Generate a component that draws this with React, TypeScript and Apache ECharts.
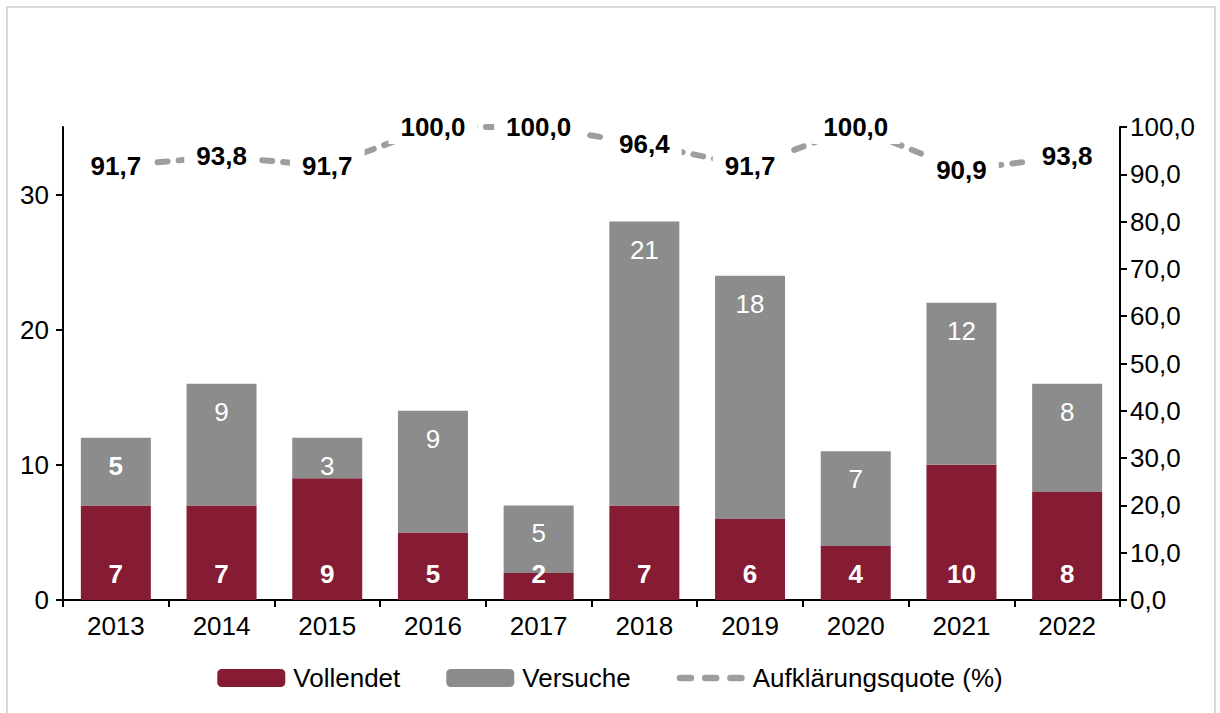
import React, { useEffect, useRef } from "react";
import * as echarts from "echarts";

const years = ["2013", "2014", "2015", "2016", "2017", "2018", "2019", "2020", "2021", "2022"];
const vollendet = [7, 7, 9, 5, 2, 7, 6, 4, 10, 8];
const versuche = [5, 9, 3, 9, 5, 21, 18, 7, 12, 8];
const quote = [91.7, 93.8, 91.7, 100.0, 100.0, 96.4, 91.7, 100.0, 90.9, 93.8];
const leftTicks = [0, 10, 20, 30];

const FONT = "'Liberation Sans', Arial, sans-serif";
const RED = "#861C33";
const GRAY = "#8C8C8C";
const LINE = "#9E9E9E";
const FS = 26;

const dashIcon =
  "path://M3,0h10a3,3 0 0 1 0,6h-10a3,3 0 0 1 0,-6z M26,0h10a3,3 0 0 1 0,6h-10a3,3 0 0 1 0,-6z M49,0h10a3,3 0 0 1 0,6h-10a3,3 0 0 1 0,-6z";

export default function App() {
  const ref = useRef<HTMLDivElement>(null);
  useEffect(() => {
    if (!ref.current) return;
    const chart = echarts.init(ref.current, undefined, { renderer: "svg" });
    const fmt = (v: number) => v.toFixed(1).replace(".", ",");
    chart.setOption({
      animation: false,
      textStyle: { fontFamily: FONT },
      graphic: [
        {
          type: "rect",
          shape: { x: 7, y: 7, width: 1208, height: 720 },
          style: { fill: "none", stroke: "#D9D9D9", lineWidth: 2 },
          silent: true,
        },
      ],
      grid: { left: 63, right: 100, top: 127, bottom: 113, containLabel: false },
      legend: {
        bottom: 17,
        left: "center",
        itemWidth: 68,
        itemHeight: 18,
        itemGap: 46,
        textStyle: { fontFamily: FONT, fontSize: FS, color: "#000", padding: [0, 0, 0, 3] },
        data: [
          { name: "Vollendet" },
          { name: "Versuche" },
          { name: "Aufklärungsquote (%)", icon: dashIcon, itemStyle: { color: LINE } },
        ],
      },
      xAxis: {
        type: "category",
        data: years,
        axisLine: { lineStyle: { color: "#000", width: 2 } },
        axisTick: { show: true, length: 7, lineStyle: { color: "#000", width: 2 } },
        axisLabel: { fontSize: FS, color: "#000", margin: 13, fontFamily: FONT },
      },
      yAxis: [
        {
          type: "value",
          min: 0,
          max: 35,
          interval: 10,
          splitLine: { show: false },
          axisLine: { show: true, lineStyle: { color: "#000", width: 2 } },
          axisTick: { show: true, length: 7, lineStyle: { color: "#000", width: 2 }, customValues: leftTicks },
          axisLabel: { fontSize: FS, color: "#000", margin: 14, fontFamily: FONT, customValues: leftTicks },
        },
        {
          type: "value",
          min: 0,
          max: 100,
          interval: 10,
          position: "right",
          splitLine: { show: false },
          axisLine: { show: true, lineStyle: { color: "#000", width: 2 } },
          axisTick: { show: true, length: 7, lineStyle: { color: "#000", width: 2 } },
          axisLabel: { fontSize: FS, color: "#000", margin: 10, fontFamily: FONT, formatter: fmt },
        },
      ],
      series: [
        {
          name: "Vollendet",
          type: "bar",
          stack: "total",
          barWidth: 70,
          itemStyle: { color: RED },
          label: {
            show: true,
            position: "insideBottom",
            distance: 13,
            color: "#fff",
            fontWeight: "bold",
            fontSize: FS,
            fontFamily: FONT,
          },
          data: vollendet,
        },
        {
          name: "Versuche",
          type: "bar",
          stack: "total",
          barWidth: 70,
          itemStyle: { color: GRAY },
          label: {
            show: true,
            position: "insideTop",
            distance: 15,
            color: "#fff",
            fontSize: FS,
            fontFamily: FONT,
          },
          data: versuche.map((v, i) =>
            i === 0 ? { value: v, label: { fontWeight: "bold" } } : v
          ),
        },
        {
          name: "Aufklärungsquote (%)",
          type: "line",
          yAxisIndex: 1,
          symbol: "circle",
          symbolSize: 1,
          showSymbol: true,
          z: 5,
          lineStyle: { color: LINE, width: 6, type: [10, 11], cap: "round" },
          itemStyle: { color: "rgba(0,0,0,0)" },
          label: {
            show: true,
            position: "inside",
            color: "#000",
            fontWeight: "bold",
            fontSize: FS,
            fontFamily: FONT,
            backgroundColor: "#fff",
            padding: [4, 12],
            formatter: (p: any) => fmt(p.value),
          },
          data: quote,
        },
      ],
    });
    return () => chart.dispose();
  }, []);
  return (
    <div
      ref={ref}
      style={{ position: "fixed", left: 0, top: 0, width: 1220, height: 713, background: "#fff" }}
    />
  );
}
